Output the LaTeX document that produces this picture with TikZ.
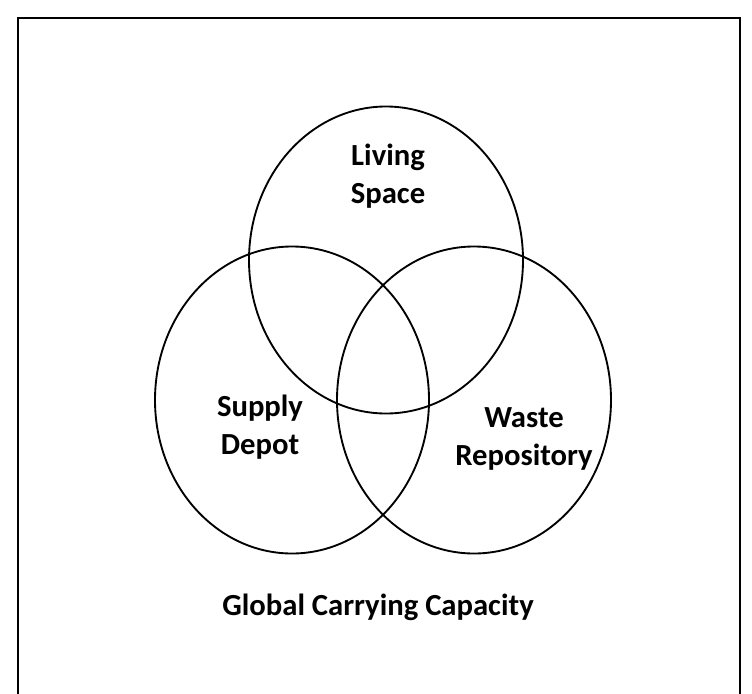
\documentclass[tikz,border=0pt]{standalone}
\usepackage{fontspec}
\setmainfont{Carlito}
\usetikzlibrary{shapes.geometric}

\tikzset{
  ring/.style={draw, line width=1.4pt, ellipse, minimum width=274*0.75pt, minimum height=307*0.75pt, inner sep=0pt},
  label/.style={font=\fontsize{23}{28.5}\selectfont\bfseries, align=center}
}

\begin{document}
\begin{tikzpicture}[x=0.75pt,y=-0.75pt]
		\useasboundingbox (0,0) rectangle (752,693);
		\draw[line width=2pt] (18,700) -- (18,18) -- (740,18) -- (740,700);
		\node[ring] (living) at (386,260) {};
		\node[ring] (supply) at (292,400) {};
		\node[ring] (waste) at (474,400) {};
		\node[label] (livingtxt) at (388,176) {Living\\Space};
		\node[label] (supplytxt) at (260,427) {Supply\\Depot};
		\node[label] (wastetxt) at (524,439) {Waste\\Repository};
		\node[label] (global) at (378,607) {Global Carrying Capacity};
\end{tikzpicture}
\end{document}
